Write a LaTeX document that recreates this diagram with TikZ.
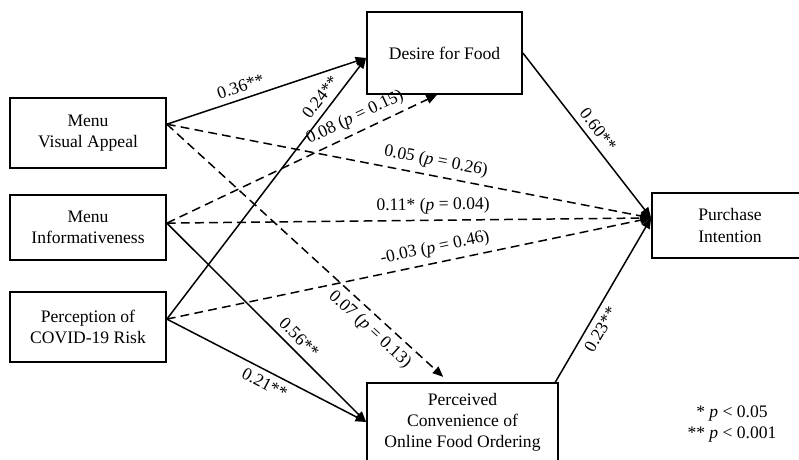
\documentclass[tikz,border=0pt]{standalone}
\usepackage{fontspec}
\setmainfont{Liberation Serif}
\usetikzlibrary{arrows.meta}

\begin{document}
\begin{tikzpicture}[x=0.02cm, y=-0.02cm,
  box/.style={draw, line width=1pt, align=center, inner sep=0pt},
  sig/.style={line width=0.85pt, -{Triangle[length=6pt,width=5pt]}},
  nsig/.style={sig, dash pattern=on 5pt off 3pt},
  coef/.style={sloped}]

  \clip (0,0) rectangle (799,460);

  % predictors
  \node[box, minimum width=3.12cm, minimum height=1.4cm] (mva) at (88,133) {Menu\\Visual Appeal};
  \node[box, minimum width=3.12cm, minimum height=1.3cm] (mi)  at (88,227.5) {Menu\\Informativeness};
  \node[box, minimum width=3.12cm, minimum height=1.4cm] (pcr) at (88,327) {Perception of\\COVID-19 Risk};

  % mediators and outcome
  \node[box, minimum width=3.1cm, minimum height=1.64cm] (dff) at (444.5,53) {Desire for Food};
  \node[box, minimum width=3.82cm, minimum height=1.56cm] (pc) at (462.5,422) {Perceived\\Convenience of\\Online Food Ordering};
  \node[box, minimum width=3.12cm, minimum height=1.3cm] (pi) at (730,225.5) {Purchase\\Intention};

  \coordinate (mva-o) at ([yshift=5pt]mva.east);
  \coordinate (mi-o)  at ([yshift=2.5pt]mi.east);
  \coordinate (pcr-o) at ([yshift=4.5pt]pcr.east);
  \coordinate (dff-i) at ([yshift=-2.8pt]dff.west);
  \coordinate (dff-b) at ([xshift=-4.3pt]dff.south);
  \coordinate (pi-i)  at ([yshift=4.3pt]pi.west);
  \coordinate (pc-t)  at ([xshift=-11pt,yshift=3pt]pc.north);
  \coordinate (pc-o)  at ([xshift=-2pt]pc.north east);

  \draw[sig]  (mva-o) -- node[coef, above, pos=0.39] {0.36**} (dff-i);
  \draw[sig]  (pcr-o) -- node[coef, above, pos=0.82] {0.24**} (dff-i);
  \draw[nsig] (mi-o)  -- node[coef, above, pos=0.72] {0.08 (\textit{p} = 0.15)} (dff-b);
  \draw[nsig] (mva-o) -- node[coef, above, pos=0.55] {0.05 (\textit{p} = 0.26)} (pi-i);
  \draw[nsig] (mi-o)  -- node[coef, above, pos=0.55] {0.11* (\textit{p} = 0.04)} (pi-i);
  \draw[nsig] (pcr-o) -- node[coef, above, pos=0.56] {-0.03 (\textit{p} = 0.46)} (pi-i);
  \draw[nsig] (mva-o) -- node[coef, below, pos=0.77] {0.07 (\textit{p} = 0.13)} (pc-t);
  \draw[sig]  (mi-o)  -- node[coef, above, pos=0.62] {0.56**} (pc.west);
  \draw[sig]  (pcr-o) -- node[coef, below, pos=0.52] {0.21**} (pc.west);
  \draw[sig]  (dff.east) -- node[coef, above, pos=0.51] {0.60**} (pi-i);
  \draw[sig]  (pc-o)  -- node[coef, below, pos=0.36] {0.23**} (pi-i);

  \node[align=center] (note) at (732,424) {* \textit{p} < 0.05\\** \textit{p} < 0.001};

\end{tikzpicture}
\end{document}
